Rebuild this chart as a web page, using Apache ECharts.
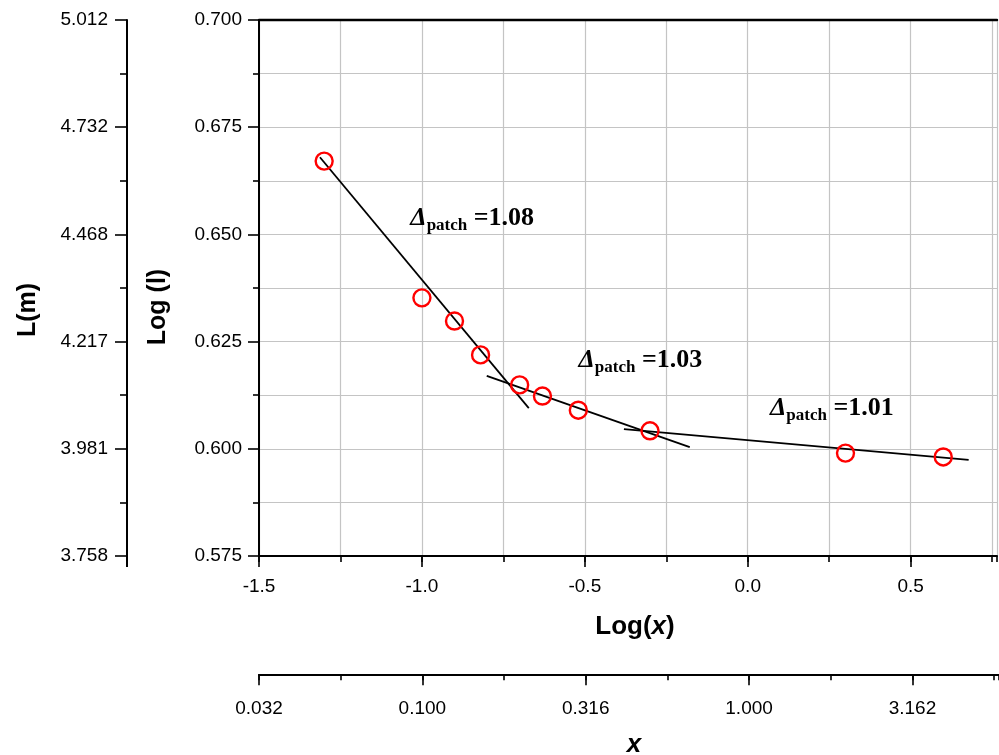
<!DOCTYPE html>
<html>
<head>
<meta charset="utf-8">
<script src="https://cdn.jsdelivr.net/npm/echarts@6/dist/echarts.min.js"></script>
<style>
html,body{margin:0;padding:0;background:#fff;}
#c{width:999px;height:755px;}
</style>
</head>
<body>
<div id="c"></div>
<script>
// Data (log10 scale)
const logX = [-1.3, -1.0, -0.9, -0.82, -0.7, -0.63, -0.52, -0.3, 0.3, 0.6];
const logL = [0.6671, 0.6352, 0.6298, 0.6219, 0.6149, 0.6123, 0.6090, 0.6042, 0.5990, 0.5981];
const fit1X = [-1.313, -0.672];
const fit1Y = [0.6680, 0.6095];
const fit2X = [-0.801, -0.178];
const fit2Y = [0.6170, 0.6004];
const fit3X = [-0.380, 0.678];
const fit3Y = [0.6046, 0.5974];
const annoX = [-1.037, -0.521, 0.067];
const annoY = [0.6538, 0.6207, 0.6095];
const annoVal = ['1.08', '1.03', '1.01'];

// Tick values and labels
const xTickVals = [-1.5, -1.0, -0.5, 0.0, 0.5];
const logXLabels = ['-1.5', '-1.0', '-0.5', '0.0', '0.5'];
const xLabels = ['0.032', '0.100', '0.316', '1.000', '3.162'];
const yTickVals = [0.575, 0.6, 0.625, 0.65, 0.675, 0.7];
const logLLabels = ['0.575', '0.600', '0.625', '0.650', '0.675', '0.700'];
const lLabels = ['3.758', '3.981', '4.217', '4.468', '4.732', '5.012'];

const xMin = -1.5, xMax = 0.765, yMin = 0.575, yMax = 0.7;

const FONT = 'Liberation Sans, Arial, sans-serif';
const SERIF = 'Liberation Serif, Times New Roman, serif';

function pick(vals, labels) {
  return v => {
    let best = -1, d = 1e9;
    vals.forEach((t, i) => { const dd = Math.abs(t - v); if (dd < d) { d = dd; best = i; } });
    return d < 1e-6 ? labels[best] : '';
  };
}

const chart = echarts.init(document.getElementById('c'));

const pts = logX.map((x, i) => [x, logL[i]]);
const annoData = annoX.map((x, i) => ({ value: [x, annoY[i]], v: annoVal[i] }));

const lineSt = { color: '#000', width: 2 };
const tickSt = { color: '#000', width: 1.6 };
const gridSt = { color: '#c4c4c4', width: 1.2 };
const labelBase = { color: '#000', fontFamily: FONT, fontSize: 19 };

chart.setOption({
  animation: false,
  backgroundColor: '#fff',
  grid: [
    { left: 259, top: 20, width: 738, height: 536 },
    { left: 127, top: 20, width: 1, height: 536 },
    { left: 259, top: 674, width: 740, height: 1 }
  ],
  xAxis: [
    {
      gridIndex: 0, type: 'value', min: xMin, max: xMax, interval: 0.25, position: 'bottom',
      axisLine: { show: true, onZero: false, lineStyle: lineSt },
      axisTick: { show: true, inside: false, length: 6, lineStyle: tickSt },
      axisLabel: { show: false },
      splitLine: { show: true, lineStyle: gridSt }
    },
    {
      gridIndex: 0, type: 'value', min: xMin, max: xMax, position: 'bottom',
      axisLine: { show: false, onZero: false },
      axisTick: { show: true, inside: false, length: 11, lineStyle: tickSt, customValues: xTickVals },
      axisLabel: Object.assign({ show: true, margin: 21, customValues: xTickVals, formatter: pick(xTickVals, logXLabels) }, labelBase),
      splitLine: { show: false },
      name: '{n|Log(}{i|x}{n|)}', nameLocation: 'middle', nameGap: 58,
      nameTextStyle: {
        padding: [0, 0, 0, 14],
        rich: {
          n: { fontFamily: FONT, fontSize: 26, fontWeight: 'bold', color: '#000' },
          i: { fontFamily: FONT, fontSize: 26, fontWeight: 'bold', fontStyle: 'italic', color: '#000' }
        }
      }
    },
    {
      gridIndex: 0, type: 'value', min: xMin, max: xMax, position: 'top',
      axisLine: { show: true, onZero: false, lineStyle: { color: '#000', width: 2.4 } },
      axisTick: { show: false }, axisLabel: { show: false }, splitLine: { show: false }
    },
    { gridIndex: 1, type: 'value', show: false },
    {
      gridIndex: 2, type: 'value', min: xMin, max: xMax, interval: 0.25, position: 'bottom',
      axisLine: { show: true, onZero: false, lineStyle: lineSt },
      axisTick: { show: true, inside: false, length: 6, lineStyle: tickSt },
      axisLabel: { show: false },
      splitLine: { show: false }
    },
    {
      gridIndex: 2, type: 'value', min: xMin, max: xMax, position: 'bottom',
      axisLine: { show: false, onZero: false },
      axisTick: { show: true, inside: false, length: 11, lineStyle: tickSt, customValues: xTickVals },
      axisLabel: Object.assign({ show: true, margin: 25, customValues: xTickVals, formatter: pick(xTickVals, xLabels) }, labelBase),
      splitLine: { show: false },
      name: 'x', nameLocation: 'middle', nameGap: 58,
      nameTextStyle: { fontFamily: FONT, fontSize: 26, fontWeight: 'bold', fontStyle: 'italic', color: '#000', padding: [0, 0, 0, 10] }
    }
  ],
  yAxis: [
    {
      gridIndex: 0, type: 'value', min: yMin, max: yMax, interval: 0.025, position: 'left',
      axisLine: { show: true, onZero: false, lineStyle: lineSt },
      axisTick: { show: true, inside: false, length: 11, lineStyle: tickSt },
      minorTick: { show: true, splitNumber: 2, length: 6, lineStyle: tickSt },
      axisLabel: Object.assign({ show: true, margin: 17, formatter: pick(yTickVals, logLLabels) }, labelBase),
      splitLine: { show: true, lineStyle: gridSt },
      minorSplitLine: { show: true, lineStyle: gridSt },
      name: 'Log (l)', nameLocation: 'middle', nameGap: 88,
      nameTextStyle: { fontFamily: FONT, fontSize: 25, fontWeight: 'bold', color: '#000', padding: [0, 38, 0, 0] }
    },
    {
      gridIndex: 1, type: 'value', min: yMin, max: yMax, interval: 0.025, position: 'left',
      axisLine: { show: true, onZero: false, lineStyle: lineSt },
      axisTick: { show: true, inside: false, length: 12, lineStyle: tickSt },
      minorTick: { show: true, splitNumber: 2, length: 7, lineStyle: tickSt },
      axisLabel: Object.assign({ show: true, margin: 19, formatter: pick(yTickVals, lLabels) }, labelBase),
      splitLine: { show: false },
      name: 'L(m)', nameLocation: 'middle', nameGap: 86,
      nameTextStyle: { fontFamily: FONT, fontSize: 25, fontWeight: 'bold', color: '#000', padding: [0, 44, 0, 0] }
    },
    { gridIndex: 2, type: 'value', show: false }
  ],
  graphic: [
    { type: 'line', shape: { x1: 127, y1: 556, x2: 127, y2: 567 }, style: { stroke: '#000', lineWidth: 2 } }
  ],
  series: [
    {
      type: 'line', xAxisIndex: 0, yAxisIndex: 0, symbol: 'none',
      data: fit1X.map((x, i) => [x, fit1Y[i]]),
      lineStyle: { color: '#000', width: 1.8 }, z: 3
    },
    {
      type: 'line', xAxisIndex: 0, yAxisIndex: 0, symbol: 'none',
      data: fit2X.map((x, i) => [x, fit2Y[i]]),
      lineStyle: { color: '#000', width: 1.8 }, z: 3
    },
    {
      type: 'line', xAxisIndex: 0, yAxisIndex: 0, symbol: 'none',
      data: fit3X.map((x, i) => [x, fit3Y[i]]),
      lineStyle: { color: '#000', width: 1.8 }, z: 3
    },
    {
      type: 'scatter', xAxisIndex: 0, yAxisIndex: 0,
      symbol: 'circle', symbolSize: 17,
      itemStyle: { color: 'rgba(255,255,255,0)', borderColor: '#ff0000', borderWidth: 2.4, opacity: 1 },
      data: pts, z: 4
    },
    {
      type: 'scatter', xAxisIndex: 0, yAxisIndex: 0,
      symbol: 'circle', symbolSize: 1, itemStyle: { color: 'transparent', borderWidth: 0 },
      data: annoData, z: 5, silent: true,
      label: {
        show: true, position: 'right', distance: 0, color: '#000', opacity: 1, textBorderWidth: 0,
        formatter: p => '{d|Δ}{s|patch}{b| =' + p.data.v + '}',
        rich: {
          d: { fontFamily: SERIF, fontSize: 26, fontWeight: 'bold', fontStyle: 'italic', color: '#000', lineHeight: 24 },
          s: { fontFamily: SERIF, fontSize: 17, fontWeight: 'bold', color: '#000', verticalAlign: 'bottom', lineHeight: 32 },
          b: { fontFamily: SERIF, fontSize: 26, fontWeight: 'bold', color: '#000', lineHeight: 24 }
        }
      }
    }
  ]
});
</script>
</body>
</html>
